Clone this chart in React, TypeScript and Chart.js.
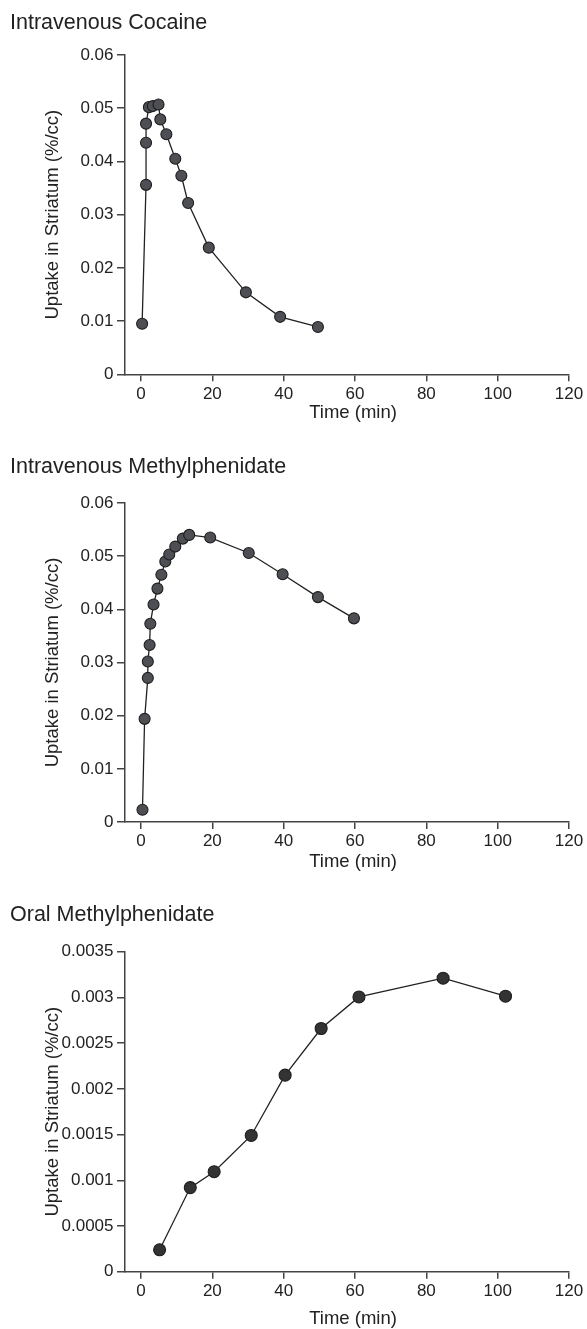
import { useEffect, useRef } from "react";
import { Chart, registerables } from "chart.js";

Chart.register(...registerables);

// ---------- data ----------
const cocaineTime = [0.3, 1.4, 1.4, 1.4, 2.2, 3.3, 4.9, 5.4, 7.1, 9.6, 11.3, 13.2, 19.0, 29.4, 39.0, 49.6];
const cocaineUptake = [0.0095, 0.0356, 0.0435, 0.0471, 0.0502, 0.0504, 0.0507, 0.0479, 0.0451, 0.0405, 0.0373, 0.0322, 0.0238, 0.0154, 0.0108, 0.0089];

const ivMphTime = [0.4, 1.0, 1.9, 1.9, 2.4, 2.6, 3.5, 4.6, 5.7, 6.8, 7.9, 9.6, 11.7, 13.5, 19.4, 30.2, 39.7, 49.6, 59.7];
const ivMphUptake = [0.0023, 0.0194, 0.0271, 0.0302, 0.0333, 0.0373, 0.0409, 0.0439, 0.0465, 0.049, 0.0503, 0.0518, 0.0533, 0.054, 0.0535, 0.0506, 0.0466, 0.0423, 0.0383];

const oralMphTime = [5.2, 13.8, 20.5, 30.9, 40.4, 50.5, 61.1, 84.7, 102.2];
const oralMphUptake = [0.00024, 0.00092, 0.001094, 0.00149, 0.00215, 0.00266, 0.003005, 0.00321, 0.003013];

const timeTicks = [0, 20, 40, 60, 80, 100, 120];
const timeTickLabels = ["0", "20", "40", "60", "80", "100", "120"];

const ivUptakeTicks = [0, 0.01, 0.02, 0.03, 0.04, 0.05, 0.06];
const ivUptakeTickLabels = ["0", "0.01", "0.02", "0.03", "0.04", "0.05", "0.06"];

const oralUptakeTicks = [0, 0.0005, 0.001, 0.0015, 0.002, 0.0025, 0.003, 0.0035];
const oralUptakeTickLabels = ["0", "0.0005", "0.001", "0.0015", "0.002", "0.0025", "0.003", "0.0035"];

const panelTitles = ["Intravenous Cocaine", "Intravenous Methylphenidate", "Oral Methylphenidate"];
const xAxisTitle = "Time (min)";
const yAxisTitle = "Uptake in Striatum (%/cc)";

// ---------- styling ----------
const FONT = "'Liberation Sans', Arial, Helvetica, sans-serif";
const TEXT = "#222";
const AXIS = "#444";

type PanelProps = {
  title: string;
  times: number[];
  values: number[];
  yTicks: number[];
  yLabels: string[];
  height: number;
  titleTop: number;
  areaTop: number;
  areaBottom: number;
  xTitleCenter: number;
  pointFill: string;
  pointRadius: number;
};

function Panel(p: PanelProps) {
  const ref = useRef<HTMLCanvasElement | null>(null);

  useEffect(() => {
    if (!ref.current) return;
    const titleSize = 21.5;
    const titleLH = titleSize * 1.2;
    const tickSize = 17;
    const axisTitleSize = 18.5;
    const axisTitleLH = axisTitleSize * 1.2;
    const leftPad = 10;

    const xTitlePlugin = {
      id: "xTitleShifted",
      afterDraw(chart: any) {
        const { ctx, chartArea } = chart;
        ctx.save();
        ctx.font = `${axisTitleSize}px ${FONT}`;
        ctx.fillStyle = TEXT;
        ctx.textAlign = "center";
        ctx.textBaseline = "middle";
        ctx.fillText(xAxisTitle, (chartArea.left + chartArea.right) / 2 + 6, p.xTitleCenter);
        ctx.restore();
      },
    };

    const chart = new Chart(ref.current, {
      type: "line",
      data: {
        datasets: [
          {
            data: p.times.map((t, i) => ({ x: t, y: p.values[i] })),
            borderColor: "#222",
            borderWidth: 1.3,
            tension: 0,
            fill: false,
            pointRadius: p.pointRadius,
            pointHoverRadius: p.pointRadius,
            pointBackgroundColor: p.pointFill,
            pointBorderColor: "#1e1e1e",
            pointBorderWidth: 1.1,
          },
        ],
      },
      plugins: [xTitlePlugin],
      options: {
        animation: false,
        responsive: true,
        maintainAspectRatio: false,
        events: [],
        layout: { padding: { left: leftPad, right: 18, top: 0, bottom: 0 } },
        plugins: {
          legend: { display: false },
          tooltip: { enabled: false },
          title: {
            display: true,
            text: p.title,
            align: "start",
            color: TEXT,
            font: { family: FONT, size: titleSize, weight: "normal", lineHeight: 1.2 },
            padding: { top: p.titleTop, bottom: p.areaTop - titleLH - p.titleTop },
          },
        },
        scales: {
          x: {
            type: "linear",
            min: -4.5,
            max: 120,
            afterBuildTicks: (s: any) => {
              s.ticks = timeTicks.map((v) => ({ value: v }));
            },
            afterFit: (s: any) => {
              s.height = p.height - p.areaBottom;
            },
            border: { display: true, color: AXIS, width: 1.5 },
            grid: { display: true, drawOnChartArea: false, drawTicks: true, tickLength: 7, color: AXIS, lineWidth: 1.5 },
            ticks: {
              color: TEXT,
              font: { family: FONT, size: tickSize, lineHeight: 1.2 },
              padding: 2.5,
              maxRotation: 0,
              autoSkip: false,
              callback: (_v: any, i: number) => timeTickLabels[i],
            },
            title: { display: false },
          },
          y: {
            type: "linear",
            min: p.yTicks[0],
            max: p.yTicks[p.yTicks.length - 1],
            afterBuildTicks: (s: any) => {
              s.ticks = p.yTicks.map((v) => ({ value: v }));
            },
            afterFit: (s: any) => {
              s.width = 125 - leftPad;
            },
            border: { display: true, color: AXIS, width: 1.5 },
            grid: { display: true, drawOnChartArea: false, drawTicks: true, tickLength: 8, color: AXIS, lineWidth: 1.5 },
            ticks: {
              color: TEXT,
              font: { family: FONT, size: tickSize, lineHeight: 1.2 },
              padding: 3.5,
              autoSkip: false,
              callback: (_v: any, i: number) => p.yLabels[i],
            },
            title: {
              display: true,
              text: yAxisTitle,
              color: TEXT,
              font: { family: FONT, size: axisTitleSize, lineHeight: 1.2 },
              padding: { top: 53 - leftPad - axisTitleLH / 2, bottom: 0 },
            },
          },
        },
      },
    } as any);
    return () => chart.destroy();
  }, []);

  return (
    <div style={{ position: "relative", width: 587, height: p.height }}>
      <canvas ref={ref} />
    </div>
  );
}

export default function App() {
  useEffect(() => {
    document.body.style.margin = "0";
    document.body.style.background = "#fff";
  }, []);

  return (
    <div style={{ width: 587, height: 1329, overflow: "hidden", background: "#fff" }}>
      <Panel
        title={panelTitles[0]}
        times={cocaineTime}
        values={cocaineUptake}
        yTicks={ivUptakeTicks}
        yLabels={ivUptakeTickLabels}
        height={448}
        titleTop={10}
        areaTop={55}
        areaBottom={374.3}
        xTitleCenter={413}
        pointFill="#4d4f55"
        pointRadius={5.5}
      />
      <Panel
        title={panelTitles[1]}
        times={ivMphTime}
        values={ivMphUptake}
        yTicks={ivUptakeTicks}
        yLabels={ivUptakeTickLabels}
        height={448}
        titleTop={6}
        areaTop={55}
        areaBottom={374}
        xTitleCenter={414}
        pointFill="#4d4f55"
        pointRadius={5.5}
      />
      <Panel
        title={panelTitles[2]}
        times={oralMphTime}
        values={oralMphUptake}
        yTicks={oralUptakeTicks}
        yLabels={oralUptakeTickLabels}
        height={433}
        titleTop={6}
        areaTop={55.7}
        areaBottom={375.7}
        xTitleCenter={423}
        pointFill="#333333"
        pointRadius={6}
      />
    </div>
  );
}
